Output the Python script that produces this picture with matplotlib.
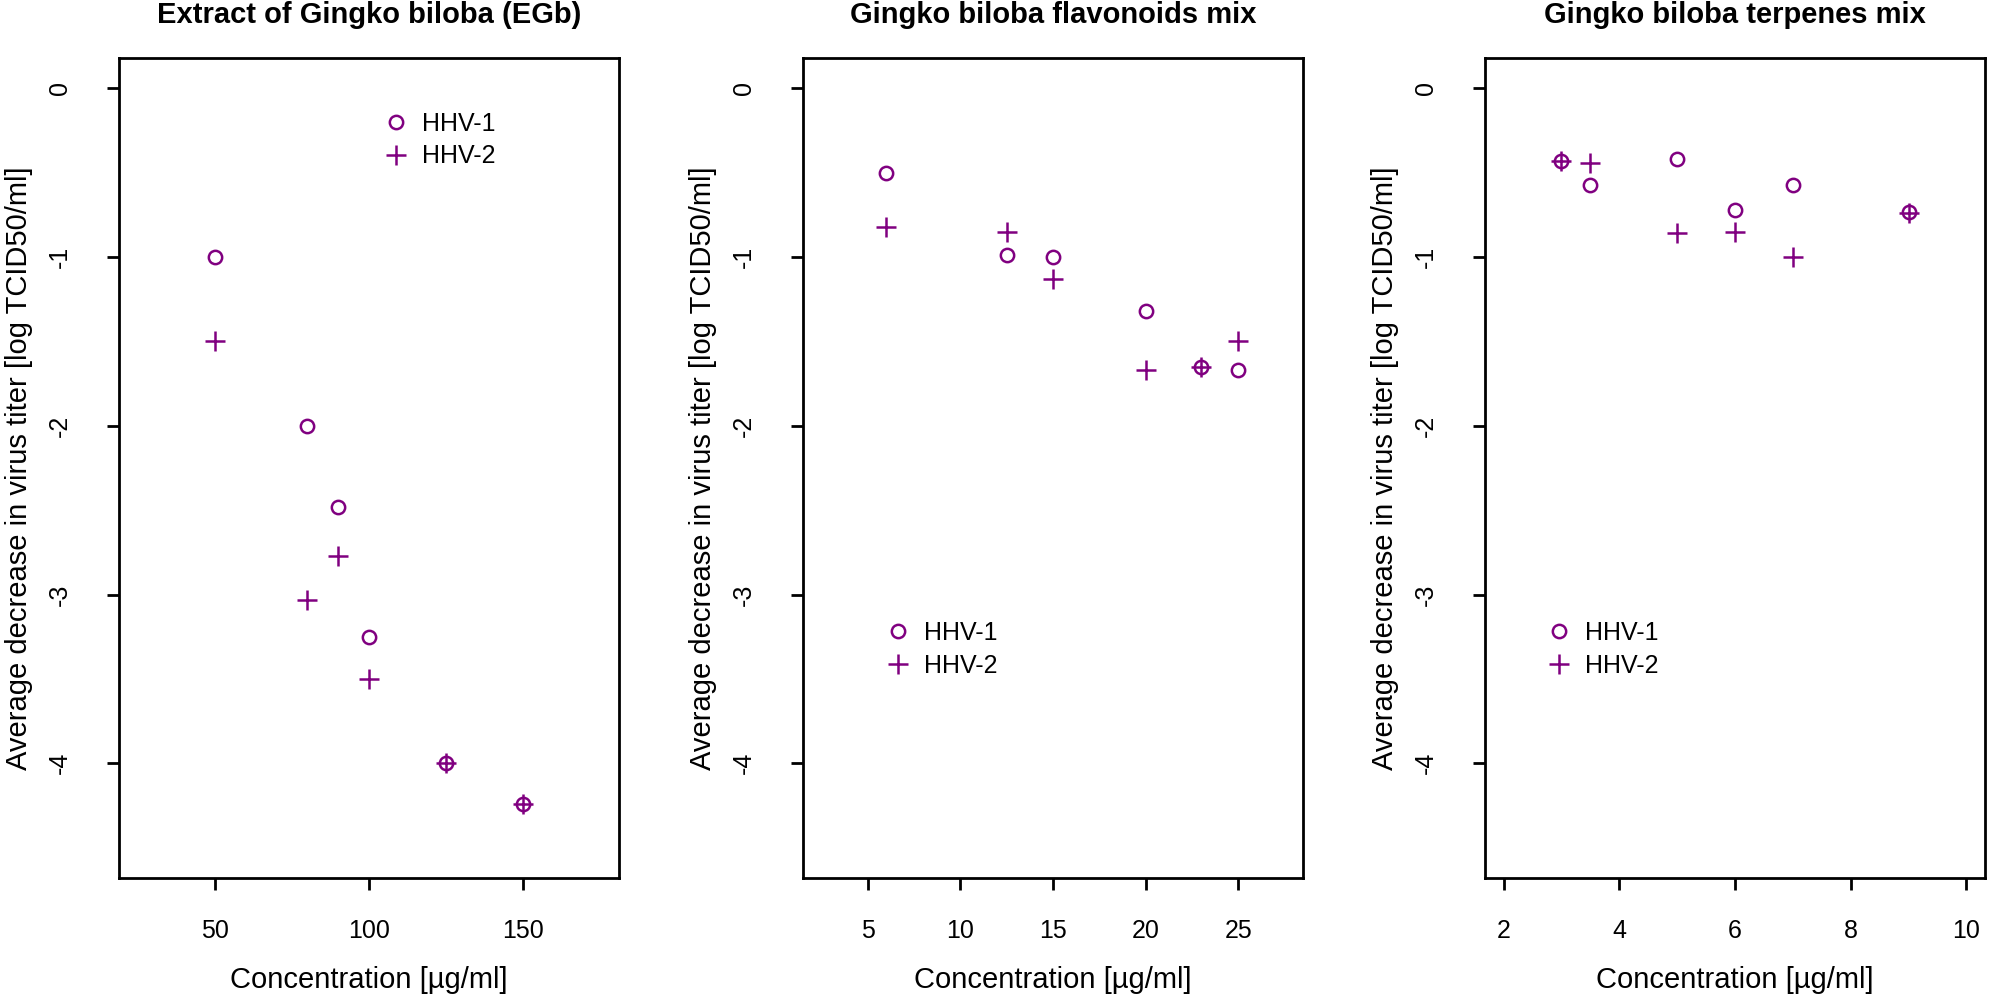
import matplotlib
matplotlib.use("Agg")
import matplotlib.pyplot as plt
from matplotlib.lines import Line2D

plt.rcParams["font.family"] = ["Liberation Sans", "DejaVu Sans"]

# Extract of Gingko biloba (EGb)
egb_conc = [50, 80, 90, 100, 125, 150]
egb_hhv1 = [-1.0, -2.0, -2.48, -3.25, -4.0, -4.24]
egb_hhv2 = [-1.5, -3.03, -2.77, -3.5, -4.0, -4.24]

# flavonoids mix
flav_conc = [6, 12.5, 15, 20, 23, 25]
flav_hhv1 = [-0.5, -0.99, -1.0, -1.32, -1.65, -1.67]
flav_hhv2 = [-0.82, -0.85, -1.13, -1.67, -1.65, -1.5]

# terpenes mix
terp_conc = [3, 3.5, 5, 6, 7, 9]
terp_hhv1 = [-0.43, -0.57, -0.42, -0.72, -0.57, -0.73]
terp_hhv2 = [-0.43, -0.44, -0.86, -0.85, -1.0, -0.74]

titles = ["Extract of Gingko biloba (EGb)",
          "Gingko biloba flavonoids mix",
          "Gingko biloba terpenes mix"]
xticks = [[50, 100, 150], [5, 10, 15, 20, 25], [2, 4, 6, 8, 10]]
yticks = [0, -1, -2, -3, -4]
legend_labels = ["HHV-1", "HHV-2"]

W, H = 1991, 998
purple = "#800080"
fs_tick = 18
fs_lab = 21

panels = [
    (egb_conc, egb_hhv1, egb_hhv2, (19, 181), 119, (0.529, 0.90)),
    (flav_conc, flav_hhv1, flav_hhv2, (1.5, 28.5), 803, (0.165, 0.279)),
    (terp_conc, terp_hhv1, terp_hhv2, (1.68, 10.32), 1485, (0.123, 0.279)),
]

fig = plt.figure(figsize=(W / 100, H / 100), dpi=100)

for i, (x, y1, y2, xlim, left, leg_pos) in enumerate(panels):
    ax = fig.add_axes([left / W, (H - 878) / H, 500 / W, 820 / H])
    ax.plot(x, y1, linestyle="none", marker="o", ms=9.6, mfc="none",
            mec=purple, mew=1.8)
    ax.plot(x, y2, linestyle="none", marker="+", ms=14.5, color=purple,
            mew=1.8)
    ax.set_xlim(*xlim)
    ax.set_ylim(-4.68, 0.18)
    ax.set_xticks(xticks[i])
    ax.set_yticks(yticks)
    ax.set_yticklabels([str(v) for v in yticks])
    for s in ax.spines.values():
        s.set_linewidth(2.0)
    ax.tick_params(axis="both", length=8.5, width=2.0, labelsize=fs_tick)
    ax.tick_params(axis="x", pad=21)
    ax.tick_params(axis="y", pad=34)
    plt.setp(ax.get_yticklabels(), rotation=90, ha="center", va="center")

    ax.set_xlabel("Concentration [µg/ml]", fontsize=fs_lab)
    ax.xaxis.set_label_coords(0.5, -(980 - 878) / 820)
    ax.xaxis.label.set_va("center")
    ax.set_ylabel("Average decrease in virus titer [log TCID50/ml]", fontsize=fs_lab)
    ax.yaxis.set_label_coords(-100 / 500, 0.5)
    ax.yaxis.label.set_va("center")

    ax.text(0.5, 1 + (58 - 23) / 820, titles[i], transform=ax.transAxes,
            ha="center", va="baseline", fontsize=21, fontweight="bold")

    handles = [
        Line2D([], [], linestyle="none", marker="o", ms=9.6, mfc="none",
               mec=purple, mew=1.8),
        Line2D([], [], linestyle="none", marker="+", ms=14.5, color=purple,
               mew=1.8),
    ]
    ax.legend(handles, legend_labels, loc="center left", bbox_to_anchor=leg_pos,
              frameon=False, fontsize=fs_tick, handlelength=1.0, handletextpad=0.55,
              labelspacing=0.35, borderpad=0, borderaxespad=0)

fig.savefig("out.png", dpi=100)
